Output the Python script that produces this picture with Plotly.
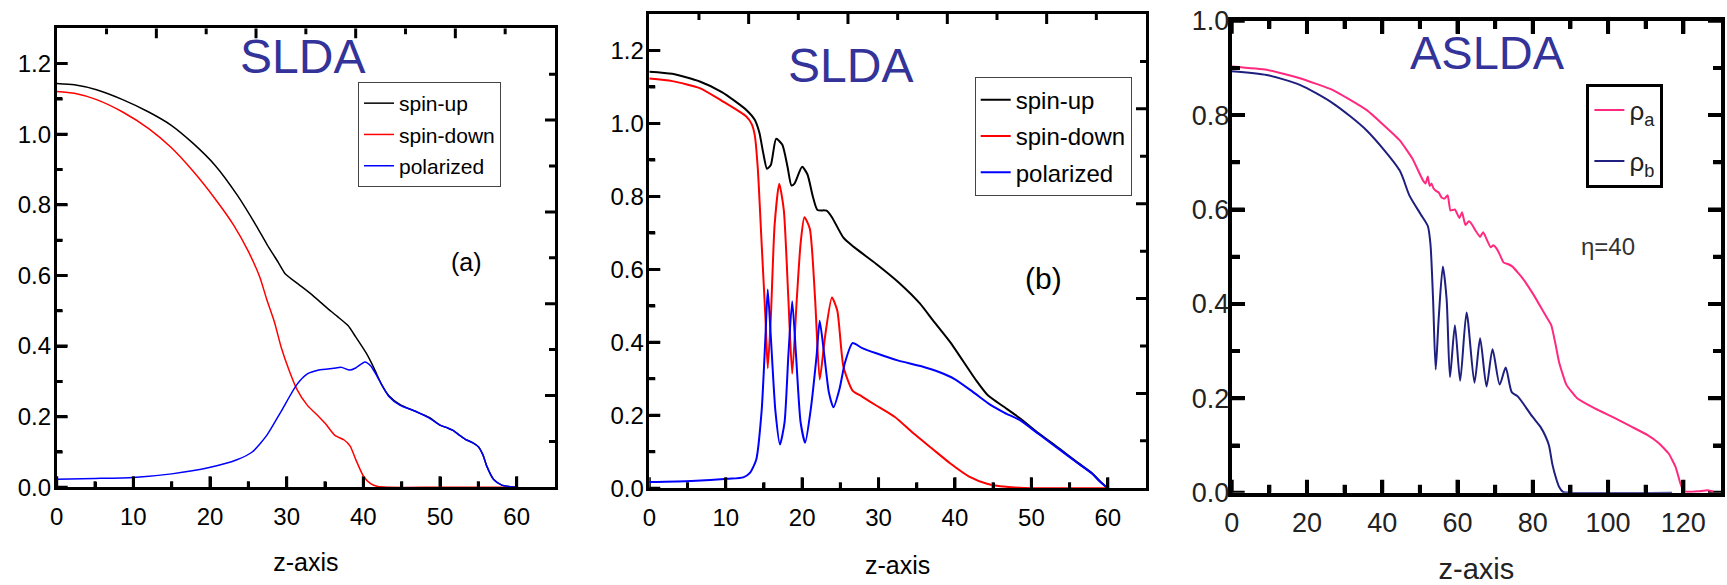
import plotly.graph_objects as go

# ---------------- Panel (a): SLDA ----------------
a_up_x = [0, 2.3, 5.2, 8.6, 12.0, 14.9, 17.8, 20.7, 23.6, 26.0, 27.4, 28.9, 29.8, 31.3, 33.2, 35.1, 36.6,
          38.0, 39.0, 40.4, 41.4, 42.4, 43.3, 44.8, 46.7, 48.6, 50.0, 51.0, 51.7, 52.5, 53.3, 54.3, 55.0,
          55.6, 56.1, 57.0, 58.0, 59.0, 60]
a_up_y = [1.144, 1.140, 1.126, 1.098, 1.063, 1.026, 0.974, 0.911, 0.826, 0.742, 0.689, 0.637, 0.605, 0.579,
          0.547, 0.511, 0.484, 0.458, 0.426, 0.379, 0.337, 0.290, 0.260, 0.234, 0.216, 0.198, 0.176, 0.168,
          0.161, 0.148, 0.136, 0.126, 0.115, 0.092, 0.060, 0.022, 0.007, 0.002, 0.0]

a_down_x = [0, 2.3, 5.2, 8.6, 12.0, 14.9, 17.8, 20.7, 23.1, 25.0, 26.5, 27.4, 28.4, 29.3, 30.3, 31.3, 32.7,
            34.2, 35.1, 36.3, 37.5, 38.3, 39.0, 40.0, 40.9, 41.9, 43.3, 50.0, 60.0]
a_down_y = [1.121, 1.116, 1.098, 1.063, 1.016, 0.963, 0.895, 0.816, 0.742, 0.668, 0.595, 0.532, 0.468, 0.395,
            0.332, 0.279, 0.232, 0.200, 0.179, 0.147, 0.134, 0.116, 0.079, 0.032, 0.011, 0.002, 0.0, 0.0, 0.0]

a_pol_x = [0, 5, 10, 15, 19.9, 23.5, 25.5, 27.4, 29.3, 31.3, 32.7, 34.2, 36.1, 37.1, 38.2, 39.0, 40.2, 41.0,
           41.9, 43.3, 44.8, 46.7, 48.6, 50.0, 51.0, 51.7, 52.5, 53.3, 54.3, 55.0, 55.6, 56.1, 57.0, 58.0,
           59.0, 60]
a_pol_y = [0.023, 0.025, 0.028, 0.038, 0.056, 0.078, 0.100, 0.147, 0.216, 0.290, 0.321, 0.332, 0.337, 0.340,
           0.332, 0.338, 0.355, 0.343, 0.310, 0.258, 0.232, 0.216, 0.196, 0.176, 0.168, 0.161, 0.148, 0.136,
           0.126, 0.115, 0.092, 0.060, 0.022, 0.007, 0.002, 0.0]

# ---------------- Panel (b): SLDA ----------------
b_up_x = [0, 3.0, 6.6, 9.5, 12.7, 13.8, 14.4, 14.9, 15.4, 15.9, 16.6, 17.4, 18.1, 18.6, 19.0, 20.0, 20.7,
          21.4, 22.0, 23.2, 23.9, 25.4, 26.8, 29.7, 32.6, 35.4, 37.1, 39.4, 42.8, 44.3, 46.5, 48.5, 51.0,
          53.7, 56.0, 57.9, 59.0, 60]
b_up_y = [1.142, 1.136, 1.115, 1.086, 1.037, 1.010, 0.975, 0.920, 0.876, 0.886, 0.958, 0.942, 0.880, 0.830,
          0.835, 0.881, 0.860, 0.800, 0.763, 0.761, 0.743, 0.687, 0.661, 0.615, 0.565, 0.507, 0.461, 0.400,
          0.295, 0.255, 0.222, 0.192, 0.150, 0.108, 0.071, 0.042, 0.019, 0.0]

b_down_x = [0, 3.0, 6.6, 9.5, 12.7, 13.4, 13.8, 14.2, 14.7, 15.2, 15.5, 15.9, 16.4, 17.0, 17.6, 18.2, 18.7,
            19.3, 19.8, 20.3, 21.0, 21.7, 22.3, 23.0, 23.9, 24.6, 25.4, 26.6, 27.8, 29.7, 32.1, 34.6, 37.0,
            39.4, 41.8, 44.3, 46.7, 49.1, 51.5, 60]
b_down_y = [1.123, 1.116, 1.097, 1.062, 1.019, 0.998, 0.968, 0.876, 0.671, 0.467, 0.329, 0.467, 0.722, 0.835,
            0.763, 0.518, 0.314, 0.518, 0.671, 0.743, 0.712, 0.518, 0.298, 0.416, 0.523, 0.487, 0.334, 0.268,
            0.252, 0.227, 0.196, 0.150, 0.109, 0.068, 0.033, 0.012, 0.004, 0.001, 0.0, 0.0]

b_pol_x = [0, 5.5, 10.3, 12.3, 13.2, 14.0, 14.7, 15.2, 15.5, 15.9, 16.5, 17.1, 17.7, 18.2, 18.7, 19.2, 19.8,
           20.4, 21.1, 21.9, 22.3, 22.9, 23.5, 24.1, 24.9, 25.6, 26.6, 27.8, 29.7, 32.6, 35.5, 38.0, 39.9,
           42.3, 44.7, 46.5, 48.5, 51.0, 53.7, 56.0, 57.9, 59.0, 60]
b_pol_y = [0.017, 0.020, 0.026, 0.030, 0.043, 0.079, 0.212, 0.416, 0.545, 0.416, 0.212, 0.120, 0.181, 0.365,
           0.513, 0.365, 0.181, 0.125, 0.212, 0.365, 0.459, 0.365, 0.263, 0.222, 0.273, 0.344, 0.398, 0.385,
           0.370, 0.350, 0.335, 0.318, 0.300, 0.265, 0.228, 0.207, 0.187, 0.148, 0.106, 0.070, 0.041, 0.018,
           0.0]

# ---------------- Panel (c): ASLDA ----------------
c_a_x = [0, 9.3, 18.1, 26.9, 35.8, 44.6, 48.0, 50.8, 51.5, 52.1, 52.6, 53.1, 53.6, 54.2, 55.0, 55.7, 56.5,
         57.4, 58.1, 59.3, 60.5, 61.2, 62.1, 63.0, 63.6, 64.8, 66.0, 66.8, 67.4, 68.8, 69.5, 70.3, 71.2, 72.2,
         73.5, 74.6, 77.4, 80.3, 83.2, 84.9, 86.0, 87.0, 88.9, 91.8, 96.6, 101.3, 106.2, 110.5, 113.5, 116.1,
         117.9, 119.2, 120.0, 121.0, 124.0, 126.5, 128.0]
c_a_y = [0.903, 0.896, 0.878, 0.853, 0.811, 0.747, 0.708, 0.662, 0.655, 0.670, 0.650, 0.655, 0.645, 0.640,
         0.636, 0.626, 0.623, 0.630, 0.598, 0.600, 0.582, 0.594, 0.567, 0.575, 0.571, 0.555, 0.542, 0.552,
         0.543, 0.520, 0.524, 0.518, 0.505, 0.488, 0.484, 0.479, 0.453, 0.418, 0.378, 0.355, 0.316, 0.276,
         0.229, 0.200, 0.178, 0.160, 0.140, 0.122, 0.105, 0.083, 0.055, 0.020, 0.004, 0.002, 0.003, 0.005,
         0.002]

c_b_x = [0, 9.3, 18.1, 26.9, 35.8, 44.6, 47.2, 50.2, 52.1, 52.8, 53.5, 54.2, 55.0, 56.1, 57.1, 58.0, 59.3,
         60.7, 62.4, 64.5, 66.0, 67.7, 69.3, 71.2, 72.8, 74.4, 76.0, 79.9, 82.0, 83.4, 84.3, 85.2, 86.2, 87.0,
         88.0, 90.0, 117.0]
c_b_y = [0.893, 0.885, 0.864, 0.825, 0.768, 0.683, 0.630, 0.590, 0.565, 0.527, 0.410, 0.261, 0.370, 0.479,
         0.410, 0.245, 0.355, 0.237, 0.382, 0.233, 0.327, 0.225, 0.304, 0.229, 0.265, 0.213, 0.204, 0.161,
         0.140, 0.119, 0.100, 0.060, 0.030, 0.012, 0.002, 0.0, 0.0]

# ---------------- tick values ----------------
ab_x_major = [0, 10, 20, 30, 40, 50, 60]
ab_x_minor = [5, 15, 25, 35, 45, 55]
ab_top_major = [13, 26, 39, 52]
ab_top_minor = [6.5, 19.5, 32.5, 45.5, 58.5]
ab_y_major = [0, 0.2, 0.4, 0.6, 0.8, 1.0, 1.2]
ab_y_minor = [0.1, 0.3, 0.5, 0.7, 0.9, 1.1]
ab_right_major = [0.26, 0.52, 0.78, 1.04]
ab_right_minor = [0.13, 0.39, 0.65, 0.91, 1.17]
c_x_major = [0, 20, 40, 60, 80, 100, 120]
c_x_minor = [10, 30, 50, 70, 90, 110]
c_y_major = [0, 0.2, 0.4, 0.6, 0.8, 1.0]
c_y_minor = [0.1, 0.3, 0.5, 0.7, 0.9]

W, H = 1727, 585
FONT = "Arial, Liberation Sans, Helvetica, sans-serif"
TITLE_BLUE = "#333399"

# panel frames in window pixels: left, right, top, bottom
FRAME_A = (56.7, 555.0, 28.3, 487.3)
FRAME_B = (649.3, 1146.0, 14.0, 488.3)
FRAME_C = (1231.7, 1721.0, 20.7, 492.7)
RANGE_A = ([0, 65], [0, 1.3])
RANGE_B = ([0, 65], [0, 1.3])
RANGE_C = ([0, 130], [0, 1.0])


def px(v):
    return v / W


def py(v):
    return 1 - v / H


fig = go.Figure()


def tick_trace(xr, yr, frame, rng, bottom, top, left, right, tw):
    """Inside tick marks on the four sides, drawn in data units of the subplot's own axes."""
    (xlo, xhi), (ylo, yhi) = rng
    ux = (xhi - xlo) / (frame[1] - frame[0])
    uy = (yhi - ylo) / (frame[3] - frame[2])
    xs, ys = [], []
    for vals, ln, base, sgn in ((bottom[0], bottom[2], ylo, 1), (bottom[1], bottom[3], ylo, 1),
                                (top[0], top[2], yhi, -1), (top[1], top[3], yhi, -1)):
        for v in vals:
            xs += [v, v, None]
            ys += [base, base + sgn * ln * uy, None]
    for vals, ln, base, sgn in ((left[0], left[2], xlo, 1), (left[1], left[3], xlo, 1),
                                (right[0], right[2], xhi, -1), (right[1], right[3], xhi, -1)):
        for v in vals:
            xs += [base, base + sgn * ln * ux, None]
            ys += [v, v, None]
    return go.Scatter(x=xs, y=ys, mode="lines", line=dict(color="black", width=tw, simplify=False),
                      showlegend=False, hoverinfo="skip", xaxis=xr, yaxis=yr, connectgaps=False)


fig.add_trace(tick_trace("x", "y", FRAME_A, RANGE_A,
                         (ab_x_major, ab_x_minor, 11, 6), (ab_top_major, ab_top_minor, 10, 6),
                         (ab_y_major, ab_y_minor, 11, 6), (ab_right_major, ab_right_minor, 10, 6), 3))
fig.add_trace(tick_trace("x2", "y2", FRAME_B, RANGE_B,
                         (ab_x_major, ab_x_minor, 11, 6), (ab_top_major, ab_top_minor, 10, 6),
                         (ab_y_major, ab_y_minor, 11, 6), (ab_right_major, ab_right_minor, 10, 6), 3))
fig.add_trace(tick_trace("x3", "y3", FRAME_C, RANGE_C,
                         (c_x_major, c_x_minor, 13, 8), (c_x_major, c_x_minor, 13, 8),
                         (c_y_major, c_y_minor, 13, 8), (c_y_major, c_y_minor, 13, 8), 4))


def line(color, width, smooth=0.6):
    return dict(color=color, width=width, shape="spline", smoothing=smooth)


fig.add_trace(go.Scatter(x=a_up_x, y=a_up_y, mode="lines", name="spin-up", line=line("black", 1.5),
                         xaxis="x", yaxis="y", legend="legend", legendgroup="a1"))
fig.add_trace(go.Scatter(x=a_down_x, y=a_down_y, mode="lines", name="spin-down", line=line("#ff0000", 1.5),
                         xaxis="x", yaxis="y", legend="legend", legendgroup="a2"))
fig.add_trace(go.Scatter(x=a_pol_x, y=a_pol_y, mode="lines", name="polarized", line=line("#0000ff", 1.5),
                         xaxis="x", yaxis="y", legend="legend", legendgroup="a3"))
fig.add_trace(go.Scatter(x=b_up_x, y=b_up_y, mode="lines", name="spin-up", line=line("black", 2),
                         xaxis="x2", yaxis="y2", legend="legend2", legendgroup="b1"))
fig.add_trace(go.Scatter(x=b_down_x, y=b_down_y, mode="lines", name="spin-down", line=line("#ff0000", 2),
                         xaxis="x2", yaxis="y2", legend="legend2", legendgroup="b2"))
fig.add_trace(go.Scatter(x=b_pol_x, y=b_pol_y, mode="lines", name="polarized", line=line("#0000ff", 2),
                         xaxis="x2", yaxis="y2", legend="legend2", legendgroup="b3"))
fig.add_trace(go.Scatter(x=c_a_x, y=c_a_y, mode="lines", name="ρ<sub>a</sub>", line=line("#ff2a7f", 2, 0.4),
                         xaxis="x3", yaxis="y3", legend="legend3", legendgroup="c1"))
fig.add_trace(go.Scatter(x=c_b_x, y=c_b_y, mode="lines", name="ρ<sub>b</sub>", line=line("#1f1f80", 2, 0.7),
                         xaxis="x3", yaxis="y3", legend="legend3", legendgroup="c2"))


def axis(domain, rng, tickvals, minorvals, fs, lw, tw, tl, mtl, fmt=None, anchor=None, color="black",
         standoff=0, mirror=True):
    d = dict(domain=domain, range=rng, tickmode="array", tickvals=tickvals,
             ticks="inside", ticklen=tl, tickwidth=tw, tickcolor="black",
             minor=dict(tickmode="array", tickvals=minorvals, ticks="inside", ticklen=mtl,
                        tickwidth=tw, tickcolor="black", showgrid=False),
             showline=True, linecolor="black", linewidth=lw, mirror=mirror,
             showgrid=False, zeroline=False, anchor=anchor, automargin=False,
             ticklabeloverflow="allow", ticklabelstandoff=standoff,
             tickfont=dict(family=FONT, size=fs, color=color))
    if fmt:
        d["tickformat"] = fmt
    return d


xa1 = axis([px(FRAME_A[0]), px(FRAME_A[1])], RANGE_A[0], ab_x_major, ab_x_minor, 24, 2.5, 3, 11, 6,
           anchor="y", standoff=6)
xa1["title"] = dict(text="z-axis", font=dict(family=FONT, size=25, color="black"), standoff=25)
ya1 = axis([py(FRAME_A[3]), py(FRAME_A[2])], RANGE_A[1], ab_y_major, ab_y_minor, 24, 2.5, 3, 11, 6,
           fmt=".1f", anchor="x", standoff=-2)

xa2 = axis([px(FRAME_B[0]), px(FRAME_B[1])], RANGE_B[0], ab_x_major, ab_x_minor, 24, 2.5, 3, 11, 6,
           anchor="y2", standoff=6)
xa2["title"] = dict(text="z-axis", font=dict(family=FONT, size=25, color="black"), standoff=27)
ya2 = axis([py(FRAME_B[3]), py(FRAME_B[2])], RANGE_B[1], ab_y_major, ab_y_minor, 24, 2.5, 3, 11, 6,
           fmt=".1f", anchor="x2", standoff=-2)

xa3 = axis([px(FRAME_C[0]), px(FRAME_C[1])], RANGE_C[0], c_x_major, c_x_minor, 27, 4, 4, 13, 8,
           anchor="y3", color="#222", standoff=3, mirror="allticks")
xa3["title"] = dict(text="z-axis", font=dict(family=FONT, size=29, color="#222"), standoff=23)
ya3 = axis([py(FRAME_C[3]), py(FRAME_C[2])], RANGE_C[1], c_y_major, c_y_minor, 27, 4, 4, 13, 8,
           fmt=".1f", anchor="x3", color="#222", standoff=-7, mirror="allticks")

fig.update_layout(
    template="none",
    width=W, height=H, autosize=False,
    margin=dict(l=0, r=0, t=0, b=0, pad=0),
    paper_bgcolor="white", plot_bgcolor="white",
    xaxis=xa1, yaxis=ya1, xaxis2=xa2, yaxis2=ya2, xaxis3=xa3, yaxis3=ya3,
    legend=dict(x=px(501), y=py(82), xanchor="right", yanchor="top", bgcolor="white",
                bordercolor="#444", borderwidth=1, tracegroupgap=1,
                font=dict(family=FONT, size=21, color="black")),
    legend2=dict(x=px(1131.7), y=py(76.7), xanchor="right", yanchor="top", bgcolor="white",
                 bordercolor="#444", borderwidth=1, tracegroupgap=2,
                 font=dict(family=FONT, size=24, color="black")),
    legend3=dict(x=px(1663.4), y=py(83.7), xanchor="right", yanchor="top", bgcolor="white",
                 bordercolor="black", borderwidth=3, tracegroupgap=14,
                 font=dict(family=FONT, size=26, color="#222")),
    annotations=[
        dict(text="SLDA", x=px(302), y=py(57), xref="paper", yref="paper", showarrow=False,
             xanchor="center", yanchor="middle", font=dict(family=FONT, size=48, color=TITLE_BLUE)),
        dict(text="SLDA", x=px(850), y=py(65), xref="paper", yref="paper", showarrow=False,
             xanchor="center", yanchor="middle", font=dict(family=FONT, size=48, color=TITLE_BLUE)),
        dict(text="ASLDA", x=px(1487), y=py(52), xref="paper", yref="paper", showarrow=False,
             xanchor="center", yanchor="middle", font=dict(family=FONT, size=47, color=TITLE_BLUE)),
        dict(text="(a)", x=px(466.7), y=py(261.7), xref="paper", yref="paper", showarrow=False,
             xanchor="center", yanchor="middle", font=dict(family=FONT, size=25, color="black")),
        dict(text="(b)", x=px(1043), y=py(278), xref="paper", yref="paper", showarrow=False,
             xanchor="center", yanchor="middle", font=dict(family=FONT, size=30, color="black")),
        dict(text="η=40", x=px(1608), y=py(246), xref="paper", yref="paper", showarrow=False,
             xanchor="center", yanchor="middle", font=dict(family=FONT, size=24, color="#333")),
    ],
)

# drop the browser's default 8px body margin so the figure fills the 1727x585 window exactly
fig.write_html("out.html", config={"displayModeBar": False},
               post_script="document.body.style.margin='0px';document.body.style.overflow='hidden';")
